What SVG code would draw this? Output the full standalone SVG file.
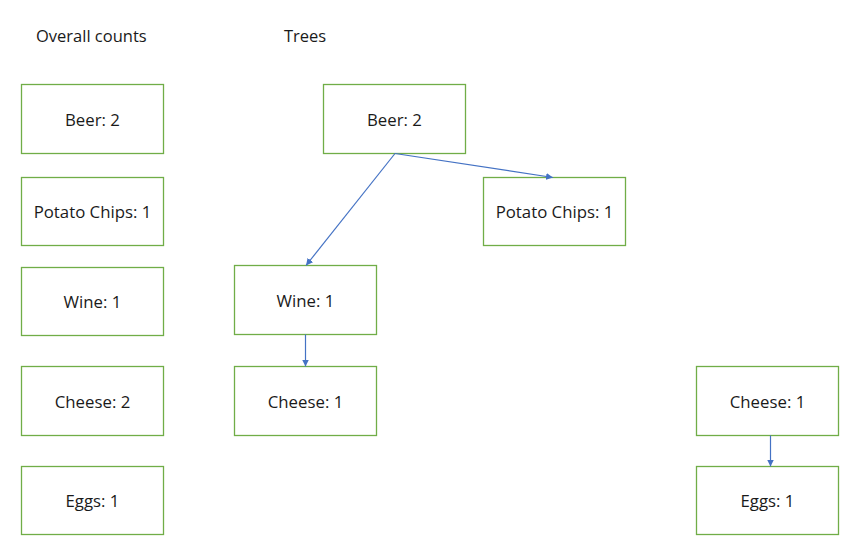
<svg xmlns="http://www.w3.org/2000/svg" width="850" height="546" viewBox="0 0 850 546">
<defs>
<marker id="ah" viewBox="0 0 10 10" refX="10" refY="5" markerWidth="7" markerHeight="7" orient="auto" markerUnits="userSpaceOnUse">
<path d="M0,0 L10,5 L0,10 z" fill="#4472C4"/>
</marker>
<style>
.box{fill:#fff;stroke:#70AD47;stroke-width:1.3}
.t{font-family:"Open Sans","Liberation Sans",sans-serif;font-size:16.8px;fill:#1a1a1a;text-anchor:middle;dominant-baseline:central}
.h{font-family:"Open Sans","Liberation Sans",sans-serif;font-size:16.5px;fill:#1a1a1a}
.c{stroke:#4472C4;stroke-width:1.2;fill:none;marker-end:url(#ah)}
</style>
</defs>
<rect width="850" height="546" fill="#fff"/>
<text class="h" x="36" y="42">Overall counts</text>
<text class="h" x="284" y="42">Trees</text>
<g id="oc-beer"><rect class="box" x="21.5" y="84.5" width="142" height="69"/><text class="t" x="92.5" y="119">Beer: 2</text></g>
<g id="oc-chips"><rect class="box" x="21.5" y="177.5" width="142" height="68"/><text class="t" x="92.5" y="211.5">Potato Chips: 1</text></g>
<g id="oc-wine"><rect class="box" x="21.5" y="267.5" width="142" height="68"/><text class="t" x="92.5" y="301.5">Wine: 1</text></g>
<g id="oc-cheese"><rect class="box" x="21.5" y="366.5" width="142" height="69"/><text class="t" x="92.5" y="401">Cheese: 2</text></g>
<g id="oc-eggs"><rect class="box" x="21.5" y="466.5" width="142" height="68"/><text class="t" x="92.5" y="500.5">Eggs: 1</text></g>
<g id="t-beer"><rect class="box" x="323.5" y="84.5" width="142" height="69"/><text class="t" x="394.5" y="119">Beer: 2</text></g>
<g id="t-chips"><rect class="box" x="483.5" y="177.5" width="142" height="68"/><text class="t" x="554.5" y="211.5">Potato Chips: 1</text></g>
<g id="t-wine"><rect class="box" x="234.5" y="265.5" width="142" height="69"/><text class="t" x="305.5" y="300">Wine: 1</text></g>
<g id="t-cheese"><rect class="box" x="234.5" y="366.5" width="142" height="69"/><text class="t" x="305.5" y="401">Cheese: 1</text></g>
<g id="t2-cheese"><rect class="box" x="696.5" y="366.5" width="142" height="69"/><text class="t" x="767.5" y="401">Cheese: 1</text></g>
<g id="t2-eggs"><rect class="box" x="696.5" y="466.5" width="142" height="68"/><text class="t" x="767.5" y="500.5">Eggs: 1</text></g>
<g id="connectors">
<line class="c" x1="395" y1="153.5" x2="306" y2="265.5"/>
<line class="c" x1="395" y1="153.5" x2="553" y2="177.5"/>
<line class="c" x1="305.5" y1="334.5" x2="305.5" y2="366.5"/>
<line class="c" x1="770.5" y1="435.5" x2="770.5" y2="466.5"/>
</g>
</svg>
